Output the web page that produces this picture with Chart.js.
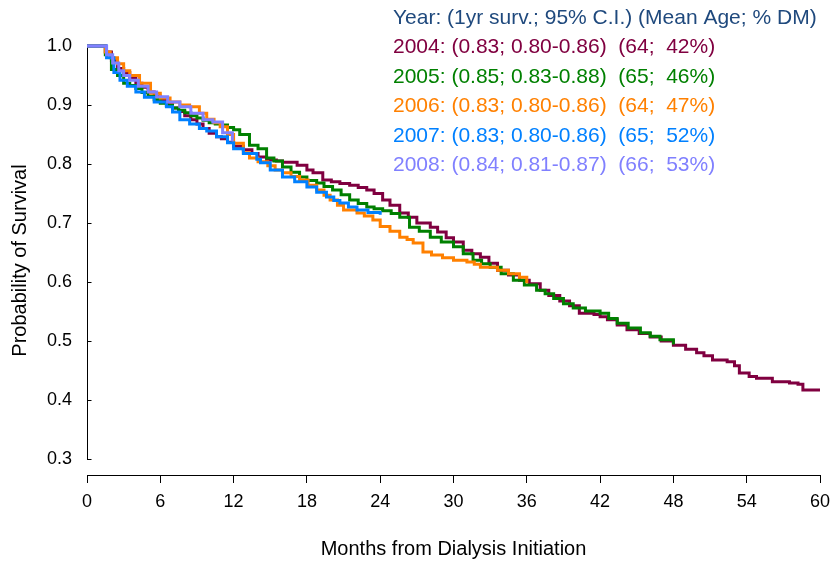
<!DOCTYPE html>
<html>
<head>
<meta charset="utf-8">
<title>Survival by year of dialysis initiation</title>
<script src="https://cdn.jsdelivr.net/npm/chart.js@4"></script>
<style>
  html, body { margin: 0; padding: 0; background: #fff; }
</style>
</head>
<body>
<canvas id="survChart" width="831" height="562"></canvas>
<script>
// Kaplan-Meier survival by year of dialysis start
const years = ["2004", "2005", "2006", "2007", "2008"];
const colors = ["#800040", "#008000", "#FF8000", "#0080FF", "#8080FF"];

// legend stats: 1yr survival, 95% CI, mean age, % diabetic
const oneYearSurv = [0.83, 0.85, 0.83, 0.83, 0.84];
const ciLow = [0.80, 0.83, 0.80, 0.80, 0.81];
const ciHigh = [0.86, 0.88, 0.86, 0.86, 0.87];
const meanAge = [64, 65, 64, 65, 66];
const pctDM = [42, 46, 47, 52, 53];

const months2004 = [0, 1, 1.5, 2, 2.5, 3, 3.5, 4, 4.5, 5, 5.5, 6, 6.5, 7, 7.5, 8, 8.5, 9, 9.5, 10, 10.6, 11,
  11.5, 12, 12.8, 13.5, 14, 14.7, 15.5, 16, 17.2, 18, 18.5, 19.3, 20, 20.7, 21.5, 22.2, 22.9, 23.5, 24.2,
  24.8, 25.6, 26.3, 27, 28.1, 28.7, 29.4, 30, 30.8, 31.5, 32.2, 32.9, 33.6, 34.5, 35.4, 36.2, 37.1, 37.8,
  38.7, 39.5, 40.3, 41.5, 42, 42.6, 43.4, 44.2, 45.2, 46.1, 47, 48, 49, 49.9, 50.5, 51.2, 52.4, 53, 53.4,
  54.2, 54.8, 56.1, 57.5, 58.2, 58.6, 60];
const surv2004 = [1, 1, 0.99, 0.975, 0.962, 0.955, 0.945, 0.937, 0.93, 0.922, 0.915, 0.908, 0.902, 0.895,
  0.889, 0.882, 0.875, 0.868, 0.86, 0.852, 0.846, 0.843, 0.837, 0.83, 0.824, 0.818, 0.812, 0.807, 0.805,
  0.803, 0.798, 0.79, 0.785, 0.773, 0.77, 0.767, 0.764, 0.76, 0.756, 0.75, 0.739, 0.73, 0.717, 0.71, 0.7,
  0.693, 0.685, 0.675, 0.668, 0.654, 0.648, 0.642, 0.632, 0.62, 0.612, 0.603, 0.597, 0.586, 0.577, 0.568,
  0.56, 0.547, 0.545, 0.541, 0.536, 0.527, 0.519, 0.513, 0.507, 0.5, 0.493, 0.486, 0.48, 0.475, 0.468,
  0.465, 0.458, 0.446, 0.44, 0.437, 0.431, 0.429, 0.427, 0.417, 0.417];

const months2005 = [0, 1, 1.5, 2, 2.5, 3, 3.5, 4, 4.5, 5, 5.5, 6, 6.5, 7, 7.5, 8, 8.5, 9, 9.5, 10, 10.5, 11,
  11.5, 12, 12.5, 13.3, 14, 14.7, 15.3, 16, 16.7, 17.4, 18, 18.8, 19.4, 20.1, 20.8, 21.5, 22.2, 22.9, 23.5,
  24.2, 24.9, 25.6, 26.4, 27.2, 28.1, 29, 30, 30.8, 31.6, 32.3, 33, 33.9, 34.9, 35.8, 36.8, 37.5, 38.2, 39,
  39.8, 40.8, 42, 42.7, 43.4, 44.3, 45.3, 46.1, 46.9, 48];
const surv2005 = [1, 1, 0.985, 0.96, 0.95, 0.937, 0.933, 0.928, 0.921, 0.915, 0.909, 0.903, 0.899, 0.895,
  0.891, 0.887, 0.882, 0.878, 0.874, 0.87, 0.868, 0.866, 0.862, 0.858, 0.85, 0.832, 0.826, 0.81, 0.805,
  0.795, 0.786, 0.778, 0.772, 0.768, 0.762, 0.756, 0.748, 0.739, 0.733, 0.727, 0.724, 0.721, 0.716, 0.71,
  0.693, 0.686, 0.676, 0.668, 0.66, 0.648, 0.637, 0.631, 0.625, 0.614, 0.603, 0.595, 0.586, 0.58, 0.572,
  0.563, 0.556, 0.551, 0.547, 0.538, 0.53, 0.522, 0.514, 0.508, 0.502, 0.494];

const months2006 = [0, 1, 1.5, 1.9, 2.5, 3, 3.5, 4.3, 5.2, 6, 6.8, 7.6, 8.4, 9.2, 9.8, 10.4, 10.9, 11.5, 12,
  12.8, 13.3, 14, 14.8, 15.4, 16, 16.7, 17.4, 18.1, 18.8, 19.4, 19.9, 20.5, 21, 22.1, 22.7, 23.4, 24, 24.8,
  25.6, 26.2, 26.7, 27.5, 28.2, 29.1, 30, 31.1, 31.7, 32.2, 33.6, 34.5, 35.4, 36];
const surv2006 = [1, 1, 0.99, 0.98, 0.97, 0.958, 0.95, 0.937, 0.92, 0.912, 0.905, 0.9, 0.897, 0.886, 0.876,
  0.87, 0.863, 0.85, 0.835, 0.819, 0.81, 0.804, 0.797, 0.79, 0.785, 0.779, 0.773, 0.764, 0.756, 0.747, 0.739,
  0.73, 0.722, 0.717, 0.712, 0.705, 0.694, 0.686, 0.676, 0.672, 0.666, 0.651, 0.646, 0.641, 0.637, 0.634,
  0.63, 0.625, 0.62, 0.614, 0.608, 0.598];

const months2007 = [0, 1, 1.6, 2.2, 2.7, 3.3, 4, 4.7, 5.5, 6.5, 7, 7.6, 8.4, 9.2, 9.8, 10.6, 11.5, 12, 12.8,
  13.9, 14.2, 15, 16, 17, 18, 18.8, 19.6, 20.2, 20.7, 21.4, 22.1, 23, 24];
const surv2007 = [1, 1, 0.98, 0.955, 0.942, 0.932, 0.922, 0.913, 0.905, 0.897, 0.888, 0.875, 0.868, 0.86,
  0.856, 0.846, 0.836, 0.826, 0.818, 0.808, 0.802, 0.79, 0.778, 0.77, 0.761, 0.752, 0.744, 0.738, 0.734,
  0.727, 0.722, 0.718, 0.714];

const months2008 = [0, 1.1, 1.6, 2.1, 2.6, 3, 3.5, 4.2, 5, 5.7, 6.6, 7.6, 8.5, 9.5, 10.3, 11.1, 11.9, 12];
const surv2008 = [1, 1, 0.985, 0.971, 0.958, 0.95, 0.942, 0.932, 0.922, 0.914, 0.905, 0.897, 0.886, 0.875,
  0.871, 0.853, 0.841, 0.841];

const allMonths = [months2004, months2005, months2006, months2007, months2008];
const allSurv = [surv2004, surv2005, surv2006, surv2007, surv2008];

const yTicks = [0.3, 0.4, 0.5, 0.6, 0.7, 0.8, 0.9, 1.0];
const fontFamily = "Arial, 'Liberation Sans', Helvetica, sans-serif";

const ctx = document.getElementById("survChart").getContext("2d");

// y axis only runs from 0.3 to 1.0, with short ticks pointing inward
const yAxisLine = {
  id: "yAxisLine",
  beforeDatasetsDraw(chart) {
    const y = chart.scales.y;
    const c = chart.ctx;
    const x0 = Math.round(chart.chartArea.left) + 0.5;
    c.save();
    c.strokeStyle = "#000";
    c.lineWidth = 1;
    c.beginPath();
    c.moveTo(x0, Math.round(y.getPixelForValue(yTicks[yTicks.length - 1])));
    c.lineTo(x0, Math.round(y.getPixelForValue(yTicks[0])) + 1);
    yTicks.forEach((v) => {
      const py = Math.round(y.getPixelForValue(v)) + 0.5;
      c.moveTo(x0, py);
      c.lineTo(x0 + 4, py);
    });
    c.stroke();
    c.restore();
  },
};

// text legend in the top right corner
const statsLegend = {
  id: "statsLegend",
  afterDraw(chart) {
    const c = chart.ctx;
    const x = 393;
    const rowH = 29.5;
    const top = 18;
    c.save();
    c.font = "21px " + fontFamily;
    c.textBaseline = "middle";
    c.textAlign = "left";
    c.fillStyle = "#1F497D";
    c.fillText("Year: (1yr surv.; 95% C.I.) (Mean Age; % DM)", x, top);
    years.forEach((yr, i) => {
      const line = yr + ": (" + oneYearSurv[i].toFixed(2) + "; " + ciLow[i].toFixed(2) + "-" +
        ciHigh[i].toFixed(2) + ")  (" + meanAge[i] + ";  " + pctDM[i] + "%)";
      c.fillStyle = colors[i];
      c.fillText(line, x, top + rowH * (i + 1));
    });
    c.restore();
  },
};

const datasets = years.map((yr, i) => ({
  label: yr,
  data: allMonths[i].map((m, j) => ({ x: m, y: allSurv[i][j] })),
  borderColor: colors[i],
  backgroundColor: colors[i],
  borderWidth: 3,
  pointRadius: 0,
  stepped: true,
  fill: false,
  clip: false,
  order: 4 - i,
}));

const config = {
  type: "line",
  data: { datasets },
  options: {
    responsive: false,
    animation: false,
    layout: { padding: { top: 46, right: 11, left: 0, bottom: 0 } },
    plugins: {
      legend: { display: false },
      tooltip: { enabled: false },
    },
    scales: {
      x: {
        type: "linear",
        min: 0,
        max: 60,
        ticks: { stepSize: 6, color: "#000", font: { size: 18, family: fontFamily }, padding: 8, maxRotation: 0 },
        grid: { drawOnChartArea: false, drawTicks: true, tickLength: 8, color: "#000" },
        border: { display: true, color: "#000", width: 1 },
        title: {
          display: true,
          text: "Months from Dialysis Initiation",
          color: "#000",
          font: { size: 20, family: fontFamily },
          padding: { top: 0, bottom: 1 },
        },
        afterFit: (s) => {
          s.height = 87;
          s.paddingLeft = 0;
          s.paddingRight = 0;
        },
      },
      y: {
        type: "linear",
        min: 0.273,
        max: 1.0,
        afterBuildTicks: (s) => { s.ticks = yTicks.map((v) => ({ value: v })); },
        ticks: {
          color: "#000",
          font: { size: 18, family: fontFamily },
          padding: 15,
          callback: (v) => Number(v).toFixed(1),
        },
        grid: { display: false, drawTicks: false },
        border: { display: false },
        title: {
          display: true,
          text: "Probability of Survival",
          color: "#000",
          font: { size: 20, family: fontFamily },
          padding: { top: 8, bottom: 0 },
        },
        afterFit: (s) => {
          s.width = 87;
          s.paddingTop = 0;
          s.paddingBottom = 0;
        },
      },
    },
  },
  plugins: [yAxisLine, statsLegend],
};

const survChart = new Chart(ctx, config);
</script>
</body>
</html>
